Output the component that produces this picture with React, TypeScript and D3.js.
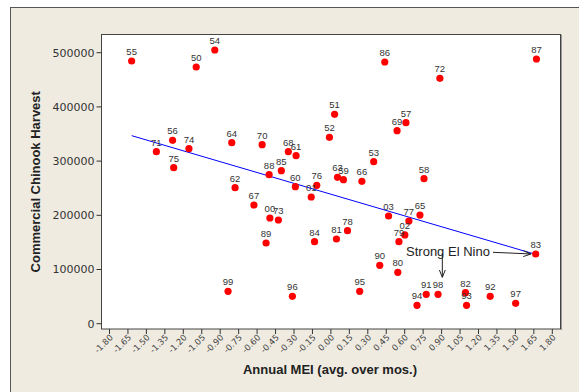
import React from 'react';
import * as d3 from 'd3';

// chinook harvest vs annual MEI, one point per year
const years = ['50', '51', '52', '53', '54', '55', '56', '57', '58', '59', '60', '61', '62', '63', '64', '65', '66', '67', '68', '69', '70', '71', '72', '73', '74', '75', '76', '77', '78', '79', '80', '81', '82', '83', '84', '85', '86', '87', '88', '89', '90', '91', '92', '93', '94', '95', '96', '97', '98', '99', '00', '01', '02', '03'];
const mei = [-1.095, 0.03, -0.012, 0.348, -0.944, -1.62, -1.287, 0.61, 0.757, 0.102, -0.289, -0.283, -0.779, 0.054, -0.806, 0.724, 0.252, -0.626, -0.346, 0.538, -0.559, -1.419, 0.886, -0.427, -1.154, -1.278, -0.115, 0.634, 0.135, 0.553, 0.544, 0.045, 1.094, 1.665, -0.133, -0.403, 0.438, 1.671, -0.502, -0.527, 0.397, 0.775, 1.295, 1.103, 0.7, 0.234, -0.313, 1.502, 0.871, -0.836, -0.496, -0.16, 0.601, 0.469];
const harvest = [473600, 386300, 343900, 298900, 505000, 484700, 338300, 370900, 267500, 265700, 252800, 310000, 250900, 270100, 334000, 200500, 262700, 219000, 317300, 356100, 330300, 317300, 452700, 191300, 322900, 287800, 255300, 189500, 171600, 151300, 94800, 156300, 57200, 128600, 151300, 282300, 482800, 488400, 274900, 148900, 107700, 54200, 50500, 33900, 33900, 59800, 50500, 37600, 54200, 59800, 195000, 233800, 163700, 198700];

const xTicks = [-1.8, -1.65, -1.5, -1.35, -1.2, -1.05, -0.9, -0.75, -0.6, -0.45, -0.3, -0.15, 0, 0.15, 0.3, 0.45, 0.6, 0.75, 0.9, 1.05, 1.2, 1.35, 1.5, 1.65, 1.8];
const yTicks = [0, 100000, 200000, 300000, 400000, 500000];

// fitted line
const fitIntercept = 238900;
const fitSlope = -66700;

// annotation (data coords)
const noteText = 'Strong El Nino';
const noteAt = [0.611, 124400];
const arrowRight = [[1.318, 131700], [1.625, 128700]];
const arrowDown = [[0.906, 130400], [0.906, 85600]];

const W = 579;
const H = 392;

export default function App() {
  const x = d3.scaleLinear().domain([-1.8, 1.8]).range([109.5, 552.3]);
  const y = d3.scaleLinear().domain([0, 500000]).range([323.7, 52.7]);
  const plot = { left: 101.5, top: 34.5, right: 560.5, bottom: 329 };

  const meiExtent = d3.extent(mei) as [number, number];
  const fitLine = d3.line<number>()
    .x((d) => x(d))
    .y((d) => y(fitIntercept + fitSlope * d));

  const pts = years.map((yr, i) => ({ yr, mei: mei[i], harvest: harvest[i] }));

  return (
    <div style={{ position: 'fixed', left: 0, top: 0 }}>
      <svg width={W} height={H} style={{ display: 'block' }}>
        <defs>
          <marker id="arr" viewBox="0 0 8 8" refX="7.5" refY="4" markerWidth="8" markerHeight="8" markerUnits="userSpaceOnUse" orient="auto">
            <path d="M0,1 L7.5,4 L0,7" fill="none" stroke="#222" strokeWidth="1" />
          </marker>
        </defs>
        <rect x={0} y={0} width={W} height={H} fill="#fff" />
        <rect x={10.5} y={7.5} width={W + 10} height={H + 10} fill="#efebe1" stroke="#555" strokeWidth={1} />

        <rect x={plot.left} y={plot.top} width={plot.right - plot.left} height={plot.bottom - plot.top} fill="#fff" stroke="#444" strokeWidth={1} />
        <line x1={plot.right + 1} x2={plot.right + 1} y1={plot.top} y2={plot.bottom + 1} stroke="#999" />

        {/* y axis */}
        {yTicks.map((t) => (
          <g key={t}>
            <line x1={plot.left - 5} x2={plot.left} y1={y(t)} y2={y(t)} stroke="#333" />
            <text x={plot.left - 7} y={y(t)} dy="0.36em" textAnchor="end" fontFamily="DejaVu Sans" fontSize={11} fill="#333">
              {t}
            </text>
          </g>
        ))}

        {/* x axis */}
        {xTicks.map((t) => (
          <g key={t}>
            <line x1={x(t)} x2={x(t)} y1={plot.bottom} y2={plot.bottom + 5} stroke="#333" />
            <text
              transform={`translate(${x(t) + 4},${plot.bottom + 9}) rotate(-45)`}
              textAnchor="end"
              fontFamily="DejaVu Sans"
              fontSize={8.5}
              fill="#444"
            >
              {t.toFixed(2)}
            </text>
          </g>
        ))}

        <text transform={`translate(39.5,${(plot.top + plot.bottom) / 2}) rotate(-90)`} textAnchor="middle" fontFamily="Liberation Sans" fontWeight="bold" fontSize={13} fill="#222">
          Commercial Chinook Harvest
        </text>
        <text x={330} y={374} textAnchor="middle" fontFamily="Liberation Sans" fontWeight="bold" fontSize={13} fill="#222">
          Annual MEI (avg. over mos.)
        </text>

        <path d={fitLine(meiExtent) || ''} fill="none" stroke="#0000ff" strokeWidth={1} />

        {pts.map((p) => (
          <circle key={p.yr} cx={x(p.mei)} cy={y(p.harvest)} r={3.6} fill="#ff0000" />
        ))}
        {pts.map((p) => (
          <text key={'l' + p.yr} x={x(p.mei)} y={y(p.harvest) - 6} textAnchor="middle" fontFamily="Liberation Sans" fontSize={9.5} fill="#333">
            {p.yr}
          </text>
        ))}

        <text x={x(noteAt[0])} y={y(noteAt[1])} fontFamily="Liberation Sans" fontSize={13} fill="#222">
          {noteText}
        </text>
        {[arrowRight, arrowDown].map((a, i) => (
          <line key={i} x1={x(a[0][0])} y1={y(a[0][1])} x2={x(a[1][0])} y2={y(a[1][1])} stroke="#222" strokeWidth={1} markerEnd="url(#arr)" />
        ))}
      </svg>
    </div>
  );
}
